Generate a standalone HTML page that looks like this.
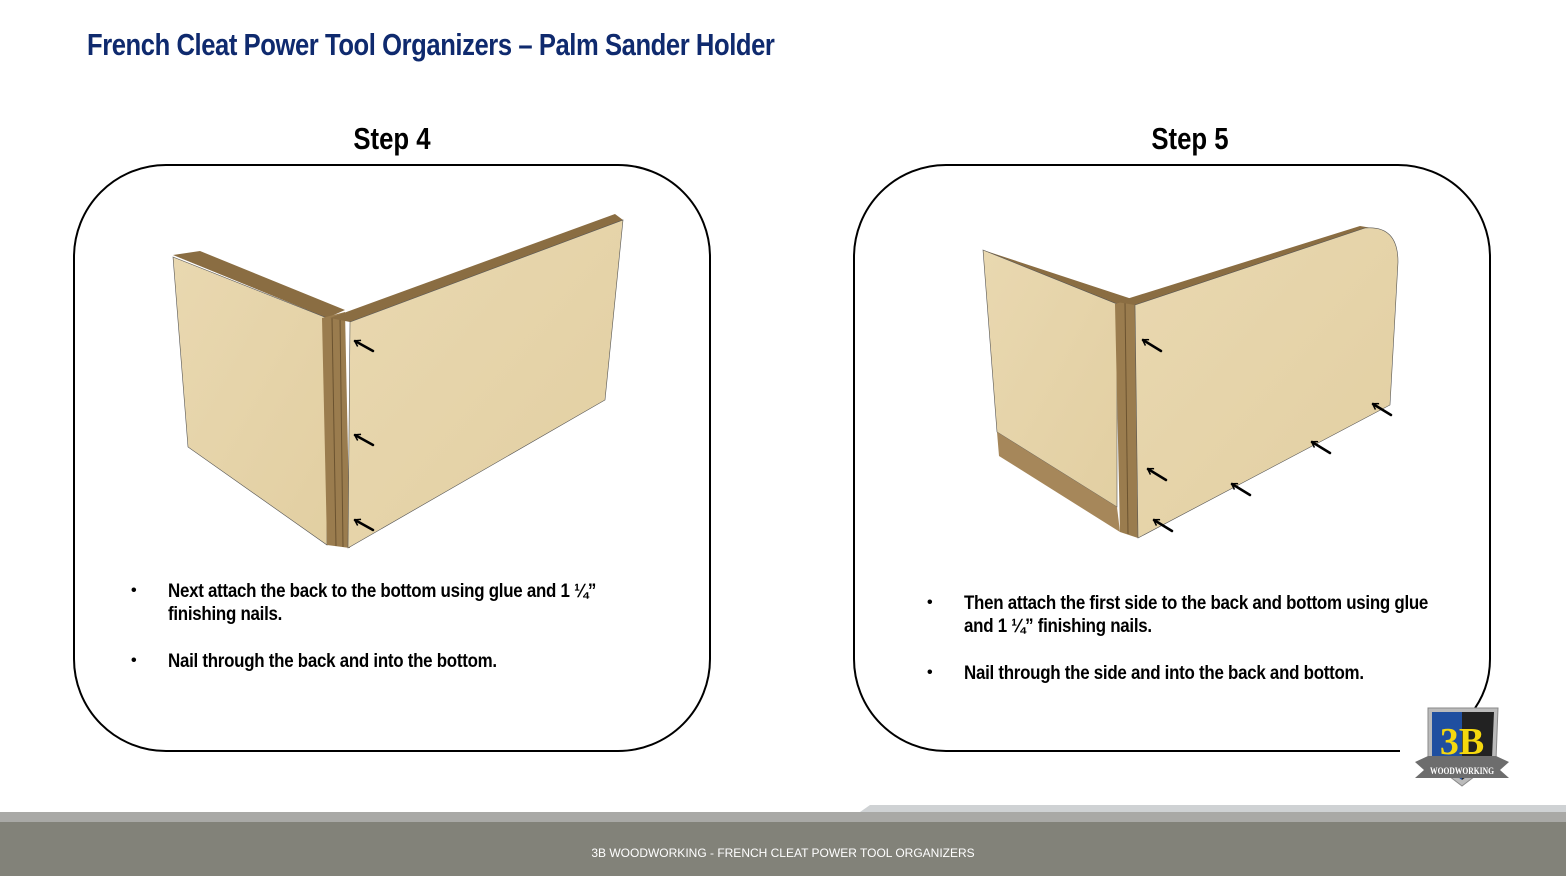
<!DOCTYPE html>
<html><head><meta charset="utf-8"><style>
body{margin:0;width:1566px;height:876px;overflow:hidden;background:#fff;position:relative;font-family:"Liberation Sans Narrow","Liberation Sans",sans-serif}
.t{position:absolute;font-weight:bold;white-space:nowrap}
.title{left:87px;top:27px;font-size:31px;color:#0f2a6e;letter-spacing:-0.5px;transform:scaleX(0.825);transform-origin:left}
.step{font-size:31px;color:#000;top:121px;width:300px;text-align:center;transform:scaleX(0.83)}
.b{font-size:19px;color:#000;line-height:23px;letter-spacing:-0.3px;transform:scaleX(0.89);transform-origin:left}
.dot{position:absolute;font-size:16px}
</style></head><body>
<div class="t title">French Cleat Power Tool Organizers – Palm Sander Holder</div>
<div class="t step" style="left:242px">Step 4</div>
<div class="t step" style="left:1040px">Step 5</div>
<svg width="1566" height="876" style="position:absolute;left:0;top:0">
<defs><linearGradient id="w" x1="0" y1="0" x2="1" y2="1"><stop offset="0" stop-color="#e9d8b0"/><stop offset="1" stop-color="#e2cfa2"/></linearGradient>
<marker id="h" markerUnits="userSpaceOnUse" markerWidth="10" markerHeight="10" refX="1" refY="4" orient="auto"><path d="M6,0.5 L0.5,4 L6,7.5" fill="none" stroke="#000" stroke-width="1.5"/></marker></defs>
<rect x="74" y="165" width="636" height="586" rx="92" fill="none" stroke="#000" stroke-width="2"/>
<path d="M1400,751 H946 A92,92 0 0 1 854,659 V257 A92,92 0 0 1 946,165 H1398 A92,92 0 0 1 1490,257 V659 Q1490,690 1470,715" fill="none" stroke="#000" stroke-width="2"/>
<polygon points="173,255 200,251 345,310 327,318" fill="#8a6d42"/>
<polygon points="173,257 327,318 327,545 188,447" fill="url(#w)" stroke="#555" stroke-width="0.6"/>
<polygon points="322,318 345,312 350,548 327,545" fill="#9a7c4e"/>
<line x1="332" y1="318" x2="336" y2="546" stroke="#6b5330"/><line x1="340" y1="316" x2="343" y2="547" stroke="#6b5330"/>
<polygon points="330,318 615,214 623,220 350,322" fill="#8a6d42"/>
<polygon points="350,322 623,220 605,400 348,548" fill="url(#w)" stroke="#555" stroke-width="0.6"/>
<polygon points="983,250 1135,300 1117,305" fill="#8a6d42"/>
<polygon points="983,250 1117,304 1117,507 997,432" fill="url(#w)" stroke="#555" stroke-width="0.6"/>
<polygon points="997,432 1117,507 1120,532 999,456" fill="#a6875a"/>
<polygon points="1115,304 1135,298 1138,538 1120,532" fill="#9a7c4e"/>
<line x1="1125" y1="302" x2="1128" y2="534" stroke="#6b5330"/>
<polygon points="1117,302 1360,226 1372,228 1135,305" fill="#8a6d42"/>
<path d="M1135,305 L1365,228 Q1398,225 1398,262 L1390,405 L1138,538 Z" fill="url(#w)" stroke="#555" stroke-width="0.6"/>
<g stroke="#000" stroke-width="2.5" stroke-linecap="round" marker-start="url(#h)">
<line x1="355" y1="341" x2="373" y2="351"/><line x1="355" y1="435" x2="373" y2="445"/><line x1="355" y1="520" x2="373" y2="530"/>
<line x1="1143" y1="340" x2="1161" y2="351"/><line x1="1148" y1="469" x2="1166" y2="480"/><line x1="1154" y1="520" x2="1172" y2="531"/>
<line x1="1232" y1="484" x2="1250" y2="495"/><line x1="1312" y1="442" x2="1330" y2="453"/><line x1="1373" y1="404" x2="1391" y2="415"/>
</g>
<path d="M1428,708 L1498,708 L1496,760 L1462,786 L1428,760 Z" fill="#bbb" stroke="#888"/>
<path d="M1432,712 L1462,712 L1462,780 L1432,758 Z" fill="#1f4fa0"/>
<path d="M1462,712 L1494,712 L1492,758 L1462,780 Z" fill="#222"/>
<text x="1462" y="754" text-anchor="middle" font-family="Liberation Serif,serif" font-weight="bold" font-size="38" fill="#f5d80e">3B</text>
<polygon points="1415,762 1428,756 1496,756 1509,762 1500,770 1509,778 1415,778 1424,770" fill="#6d6d6d"/>
<text x="1462" y="774" text-anchor="middle" font-family="Liberation Serif,serif" font-weight="bold" font-size="9" fill="#fff" textLength="64" lengthAdjust="spacingAndGlyphs">WOODWORKING</text>
<rect x="0" y="812" width="1566" height="10" fill="#a9a9a6"/>
<polygon points="860,812 870,805 1566,805 1566,812" fill="#cfd2d4"/>
<rect x="0" y="822" width="1566" height="54" fill="#828279"/>
<text x="783" y="857" text-anchor="middle" font-family="Liberation Sans,sans-serif" font-size="12" fill="#fff">3B WOODWORKING - FRENCH CLEAT POWER TOOL ORGANIZERS</text>
</svg>
<div class="t dot" style="left:131px;top:582px">•</div>
<div class="t b" style="left:168px;top:580px">Next attach the back to the bottom using glue and 1 ¼”<br>finishing nails.</div>
<div class="t dot" style="left:131px;top:652px">•</div>
<div class="t b" style="left:168px;top:650px">Nail through the back and into the bottom.</div>
<div class="t dot" style="left:927px;top:594px">•</div>
<div class="t b" style="left:964px;top:592px">Then attach the first side to the back and bottom using glue<br>and 1 ¼” finishing nails.</div>
<div class="t dot" style="left:927px;top:664px">•</div>
<div class="t b" style="left:964px;top:662px">Nail through the side and into the back and bottom.</div>
</body></html>
